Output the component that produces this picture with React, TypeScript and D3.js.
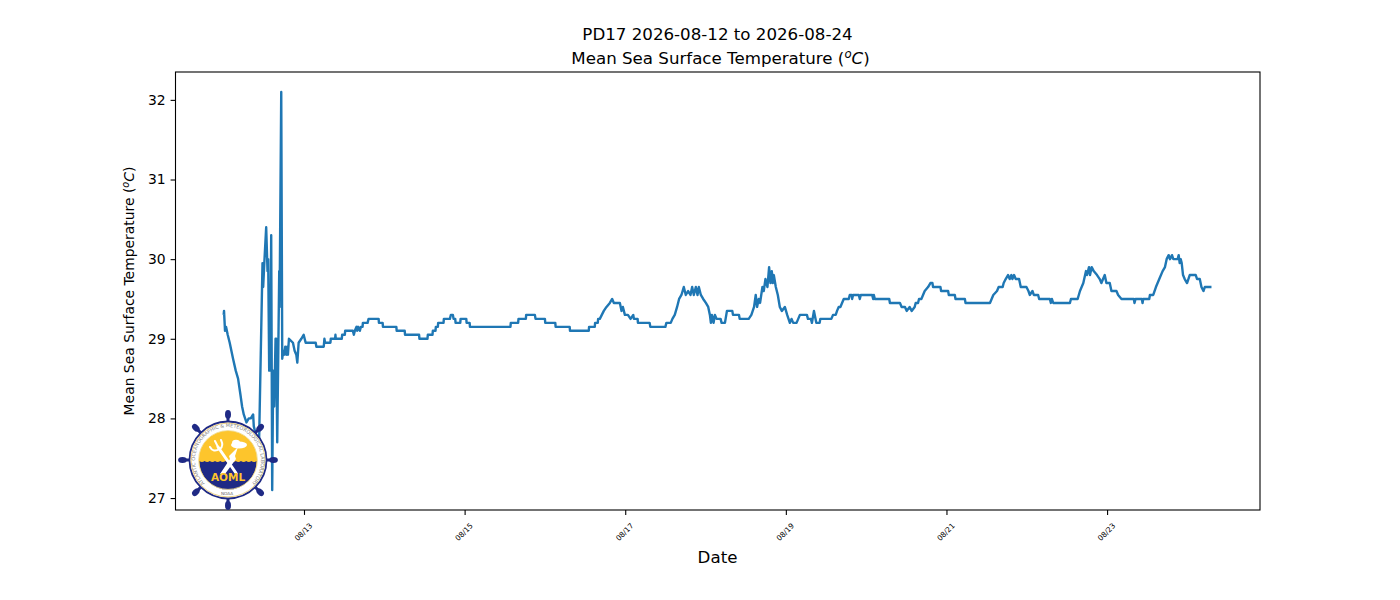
import { useEffect, useRef } from "react";
import * as d3 from "d3";

const titleLine1 = "PD17 2026-08-12 to 2026-08-24";
const xTitle = "Date";
const yTicks = [27, 28, 29, 30, 31, 32];
const yDomain = [26.85, 32.35];
const tickDays = [13, 15, 17, 19, 21, 23];
const xDomainHours = [-14.4, 309.7];

// hours since 2026-08-12 00:00 UTC, temperature
const hoursEarly = [
  0, 0.1, 0.4, 0.7, 1.2, 1.8, 2.8, 3.6, 4.3, 5, 5.5, 6, 6.8, 7.5, 8.1, 8.8, 9, 9.3, 9.9, 10.6,
  11.6, 11.8, 12.2, 12.7, 13.1, 13.3, 13.6, 13.8, 13.9, 14.2, 14.5, 14.8, 15.1, 15.5, 15.7, 16, 16.6, 16.7, 17.2, 17.5,
  17.8, 18.1, 18.4, 18.7, 19, 19.2, 19.5, 20.7, 21.2, 21.7, 22, 22.4, 23.2, 23.9, 24.5,
];
const tempsEarly = [
  29.3, 29.35, 29.1, 29.15, 29.05, 28.95, 28.75, 28.6, 28.5, 28.3, 28.15, 28.05, 27.95, 28, 28, 28.05, 27.9, 27.85, 27.75, 27.75,
  29.95, 29.65, 30, 30.4, 29.85, 30, 28.6, 28.75, 28.6, 30.3, 27.1, 28.6, 28.15, 29, 29, 27.7, 29.85, 29.4, 32.1, 28.75,
  28.85, 28.8, 28.9, 28.8, 28.9, 28.8, 29, 28.95, 28.85, 28.8, 28.7, 28.95, 29, 29.05, 28.95,
];

const hoursMid = [
  27.5, 27.7, 29.9, 30.1, 30.3, 31.9, 32, 33.3, 33.4, 33.5, 35.3, 35.4, 36.2, 36.3, 38.6, 38.9, 39.2, 39.7, 39.9, 40.2, 40.7, 41, 41.5, 41.6, 43, 43.3,
  46.3, 46.4, 47.5, 47.6, 51.6, 51.7, 54.1, 54.2, 58.4, 58.5, 60.9, 61, 62.4, 62.5, 63.3, 63.4, 64, 64.1, 65.7, 65.8, 67.6, 67.9, 68.5, 68.7, 69.2, 69.3,
  70.7, 70.8, 72.5, 72.6, 73.5, 73.6, 85.7, 85.8, 88, 88.1, 90.3, 90.4, 93, 93.2, 96, 96.1, 99.1, 99.2, 103.4, 103.5, 109.1, 109.2, 110.9, 111, 111.8, 111.9,
  112.4, 113, 113.6, 114.4, 115.4, 116.1, 116.6, 118.4, 118.9, 119.3, 119.9, 120.8, 121.6, 122.4, 122.6, 123.7, 123.8, 127.3, 127.5, 132, 132.3, 133.6,
  134.1, 134.8, 135.5, 136.1, 136.8, 137.5, 138.1, 138.8, 139.5, 140, 140.5, 141.1, 141.6, 142, 142.6, 143.3, 144.1, 144.8, 145.3, 145.6, 145.9, 146.4, 146.8, 147.3,
  148.5, 148.8, 149.8, 150.4, 152, 152.2, 154, 154.2, 156.9, 157.7, 158.5, 159, 159.4, 159.9, 160.3, 161, 161.4, 161.9, 162.5, 163, 163.4, 163.8, 164.1, 164.4,
  165, 165.6, 166.2, 166.8, 167.7, 168.4, 169.2, 169.7, 170.2, 171.2, 171.7, 172.2, 174.3, 174.6, 175.5, 175.8, 176.4, 177.1, 178.1, 178.3, 181.6, 182.1, 182.9,
];
const tempsMid = [
  28.95, 28.9, 28.9, 29, 28.95, 28.95, 29, 29, 29.05, 29, 29, 29.05, 29.05, 29.1, 29.1, 29.05, 29.1, 29.15, 29.1, 29.15, 29.1, 29.15, 29.15, 29.2, 29.2, 29.25,
  29.25, 29.2, 29.2, 29.15, 29.15, 29.1, 29.1, 29.05, 29.05, 29, 29, 29.05, 29.05, 29.1, 29.1, 29.15, 29.15, 29.2, 29.2, 29.25, 29.25, 29.3, 29.3, 29.25, 29.25, 29.2,
  29.2, 29.25, 29.25, 29.2, 29.2, 29.15, 29.15, 29.2, 29.2, 29.25, 29.25, 29.3, 29.3, 29.25, 29.25, 29.2, 29.2, 29.15, 29.15, 29.1, 29.1, 29.15, 29.15, 29.2, 29.2, 29.25,
  29.25, 29.3, 29.35, 29.4, 29.45, 29.5, 29.45, 29.45, 29.35, 29.4, 29.3, 29.3, 29.25, 29.3, 29.25, 29.25, 29.2, 29.2, 29.15, 29.15, 29.2, 29.2,
  29.25, 29.3, 29.4, 29.5, 29.55, 29.65, 29.55, 29.6, 29.55, 29.65, 29.55, 29.65, 29.55, 29.65, 29.55, 29.5, 29.45, 29.4, 29.3, 29.2, 29.3, 29.2, 29.3, 29.25,
  29.25, 29.2, 29.2, 29.35, 29.35, 29.3, 29.3, 29.25, 29.25, 29.3, 29.4, 29.55, 29.4, 29.5, 29.45, 29.65, 29.6, 29.75, 29.65, 29.9, 29.7, 29.85, 29.7, 29.8,
  29.65, 29.55, 29.4, 29.35, 29.4, 29.3, 29.2, 29.25, 29.2, 29.2, 29.25, 29.3, 29.3, 29.25, 29.25, 29.2, 29.35, 29.2, 29.2, 29.25, 29.25, 29.3, 29.3,
];

const hoursLate = [
  183.3, 183.8, 184.3, 184.8, 185.3, 186.8, 187.1, 187.7, 187.8, 188.1, 189.8, 190.1, 190.4, 193.8, 194.1, 194.3, 194.6, 198.9, 199.1, 202.1, 202.6, 203.6, 204.1, 205, 205.6,
  206.5, 206.8, 207.5, 207.8, 208.5, 209, 209.5, 210.5, 211.2, 211.8, 212, 214.2, 214.4, 216.5, 216.7, 218.5, 218.7, 221.5, 221.7, 229, 229.5, 230, 231.1, 231.6, 232.8,
  233.1, 233.7, 234.4, 234.9, 235.4, 235.7, 236.2, 236.7, 237.7, 238.2, 239.9, 240.5, 240.9, 241.7, 242.1, 243.4, 243.7, 246.9, 247.2, 247.5, 247.9, 252.9, 253.2, 255.2,
  255.9, 256.9, 257.7, 258, 258.6, 258.9, 259.4, 260, 261, 261.8, 262.3, 262.8, 263.3, 263.8, 264.8, 265.3, 266.8, 267.3, 268.3, 272, 272.2, 272.5, 274.4, 274.6, 274.8,
  276.6, 276.8, 277.8, 278.6, 279.6, 280.6, 281.3, 281.8, 282.4, 282.8, 283.4, 283.8, 285.1, 285.4, 285.7, 286, 286.3, 286.7, 287.2, 287.9, 288.7, 290.5, 290.9, 291.7,
  292.2, 292.8, 293.2, 295.2,
];
const tempsLate = [
  29.35, 29.4, 29.4, 29.45, 29.5, 29.5, 29.55, 29.55, 29.5, 29.55, 29.55, 29.5, 29.55, 29.55, 29.5, 29.55, 29.5, 29.5, 29.45, 29.45, 29.4, 29.4, 29.35, 29.4, 29.35,
  29.4, 29.45, 29.45, 29.5, 29.5, 29.55, 29.6, 29.65, 29.7, 29.7, 29.65, 29.65, 29.6, 29.6, 29.55, 29.55, 29.5, 29.5, 29.45, 29.45, 29.5, 29.55, 29.6, 29.65, 29.65,
  29.7, 29.75, 29.8, 29.75, 29.8, 29.75, 29.8, 29.75, 29.75, 29.65, 29.65, 29.6, 29.55, 29.6, 29.55, 29.55, 29.5, 29.5, 29.45, 29.5, 29.45, 29.45, 29.5, 29.5,
  29.6, 29.7, 29.85, 29.8, 29.9, 29.8, 29.9, 29.85, 29.8, 29.75, 29.7, 29.75, 29.8, 29.7, 29.7, 29.6, 29.6, 29.55, 29.5, 29.5, 29.45, 29.5, 29.5, 29.45, 29.5,
  29.5, 29.55, 29.55, 29.65, 29.75, 29.85, 29.9, 30, 30.05, 30, 30.05, 30, 30, 30.05, 29.95, 30, 29.95, 29.8, 29.75, 29.7, 29.8, 29.8, 29.75, 29.75,
  29.65, 29.6, 29.65, 29.65,
];

const hours = [...hoursEarly, ...hoursMid, ...hoursLate];
const temps = [...tempsEarly, ...tempsMid, ...tempsLate];

const FONT = "'DejaVu Sans', sans-serif";
const BLUE = "#1f77b4";
const NAVY = "#1f2a85";
const GOLD = "#fdc52c";

const toDate = (h: number) => new Date(Date.UTC(2026, 7, 12) + h * 3600e3);

function Logo() {
  const cx = 228;
  const cy = 460;
  const spokes = d3.range(8).map((i) => (i * Math.PI) / 4);
  const waves = d3.range(11).map(() => "q2.6,2 5.2,0").join(" ");
  return (
    <g>
      {spokes.map((a) => {
        const deg = (a * 180) / Math.PI;
        return (
          <g key={deg} transform={`translate(${cx},${cy}) rotate(${deg})`}>
            <line x1={38} x2={46} y1={0} y2={0} stroke={NAVY} strokeWidth={3} />
            <ellipse cx={45.5} cy={0} rx={4.4} ry={3} fill={NAVY} />
          </g>
        );
      })}
      <circle cx={cx} cy={cy} r={38.5} fill="#fff" stroke={NAVY} strokeWidth={1.8} />
      <circle cx={cx} cy={cy} r={36.9} fill="none" stroke="#e9c766" strokeWidth={0.8} />
      <circle cx={cx} cy={cy} r={29.2} fill={GOLD} />
      <path d={`M${cx - 28.6},${cy + 1} ${waves} A28.6,28.6 0 0 1 ${cx - 28.6},${cy + 1} Z`} fill={NAVY} />
      <circle cx={cx} cy={cy} r={29.4} fill="none" stroke="#efd98a" strokeWidth={0.8} />
      {/* trident */}
      <g stroke="#fff" fill="none" strokeLinecap="round">
        <path d="M236,473 L218,447" strokeWidth={3} />
        <path d="M210,447 Q213,453 220,449 Q224,446 221,440" strokeWidth={2} />
        <path d="M215,441 L219,449" strokeWidth={2} />
      </g>
      {/* lightning and cloud */}
      <path d="M220,474 L230,459 L229,456 L238,447 L235,456 L236,459 L225,474 Z" fill="#fff" />
      <ellipse cx={239} cy={445} rx={8} ry={3.4} fill="#fff" />
      <ellipse cx={236} cy={443} rx={4} ry={3.2} fill="#fff" />
      <text x={cx} y={481} textAnchor="middle" fontFamily={FONT} fontWeight="bold" fontSize={10.5} fill={GOLD}>
        AOML
      </text>
      <defs>
        <path id="logo-ring" d={`M${cx - 15},${cy + 29.5} A33,33 0 1 1 ${cx + 15},${cy + 29.5}`} />
      </defs>
      <text fontFamily={FONT} fontSize={4.9} fill="#858585">
        <textPath href="#logo-ring" startOffset="50%" textAnchor="middle">
          ATLANTIC OCEANOGRAPHIC &amp; METEOROLOGICAL LABORATORY
        </textPath>
      </text>
      <text x={cx - 1} y={cy + 34.5} textAnchor="middle" fontFamily={FONT} fontSize={4.2} fill="#666">
        NOAA
      </text>
    </g>
  );
}

export default function App() {
  const chartRef = useRef<SVGGElement>(null);

  useEffect(() => {
    if (!chartRef.current) return;
    const margin = { top: 72, right: 1260, bottom: 510, left: 175.5 };

    const x = d3
      .scaleUtc()
      .domain(xDomainHours.map(toDate))
      .range([margin.left, margin.right]);
    const y = d3.scaleLinear().domain(yDomain).range([margin.bottom, margin.top]);

    const g = d3.select(chartRef.current);
    g.selectAll("*").remove();

    const line = d3
      .line<number>()
      .x((_d, i) => x(toDate(hours[i])))
      .y((d) => y(d));

    g.append("path")
      .attr("d", line(temps))
      .attr("fill", "none")
      .attr("stroke", BLUE)
      .attr("stroke-width", 2.4)
      .attr("stroke-linejoin", "round");

    g.append("rect")
      .attr("x", margin.left)
      .attr("y", margin.top)
      .attr("width", margin.right - margin.left)
      .attr("height", margin.bottom - margin.top)
      .attr("fill", "none")
      .attr("stroke", "#000")
      .attr("stroke-width", 1.1);

    const xAxis = d3
      .axisBottom(x)
      .tickValues(tickDays.map((d) => new Date(Date.UTC(2026, 7, d))))
      .tickFormat((d) => d3.utcFormat("%m/%d")(d as Date))
      .tickSize(4.9)
      .tickSizeOuter(0);
    const gx = g.append("g").attr("transform", `translate(0,${margin.bottom})`).call(xAxis);
    gx.select(".domain").remove();
    gx.selectAll("line").attr("stroke", "#000").attr("stroke-width", 1.1);
    gx.selectAll<SVGTextElement, unknown>("text")
      .attr("font-family", FONT)
      .attr("font-size", 7.4)
      .attr("fill", "#000")
      .attr("text-anchor", "middle")
      .attr("y", 0)
      .attr("dy", 0)
      .attr("dominant-baseline", "central")
      .attr("transform", "translate(-1,22) rotate(-45)");

    const yAxis = d3
      .axisLeft(y)
      .tickValues(yTicks)
      .tickFormat((d) => String(d))
      .tickSize(4.9)
      .tickPadding(4.9)
      .tickSizeOuter(0);
    const gy = g.append("g").attr("transform", `translate(${margin.left},0)`).call(yAxis);
    gy.select(".domain").remove();
    gy.selectAll("line").attr("stroke", "#000").attr("stroke-width", 1.1);
    gy.selectAll("text").attr("font-family", FONT).attr("font-size", 13.9).attr("fill", "#000");
  }, []);

  return (
    <svg
      width={1400}
      height={600}
      viewBox="0 0 1400 600"
      style={{ position: "absolute", left: 0, top: 0, background: "#fff" }}
      fontFamily={FONT}
    >
      <g ref={chartRef} />
      <Logo />
      <text x={717.5} y={40} textAnchor="middle" fontSize={16.67}>
        {titleLine1}
      </text>
      <text x={720.5} y={64} textAnchor="middle" fontSize={16.67}>
        Mean Sea Surface Temperature (
        <tspan fontStyle="italic" fontSize={11.7} dy={-6}>o</tspan>
        <tspan fontStyle="italic" dy={6}>C</tspan>)
      </text>
      <text x={717.5} y={563} textAnchor="middle" fontSize={16.67}>
        {xTitle}
      </text>
      <text transform="translate(134,291) rotate(-90)" textAnchor="middle" fontSize={13.9}>
        Mean Sea Surface Temperature (
        <tspan fontStyle="italic" fontSize={9.7} dy={-5}>o</tspan>
        <tspan fontStyle="italic" dy={5}>C</tspan>)
      </text>
    </svg>
  );
}
